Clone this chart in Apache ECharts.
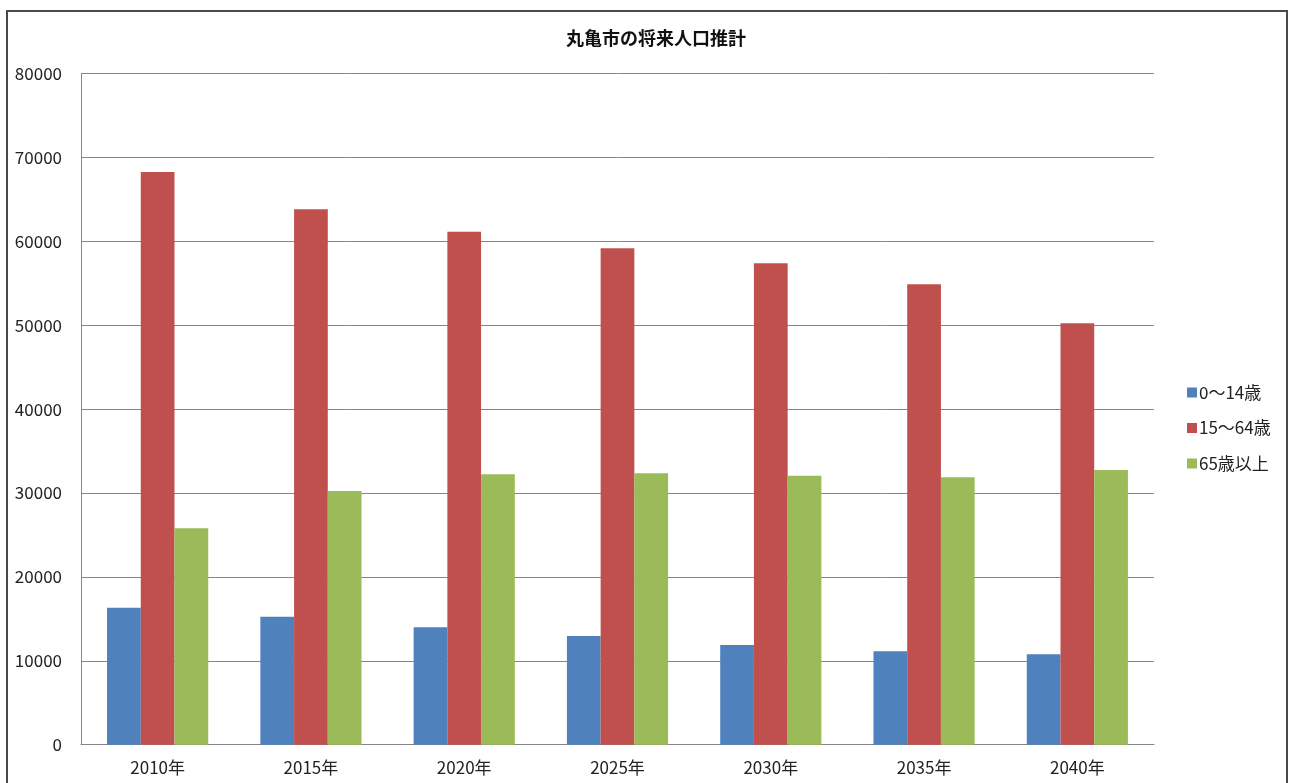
<!DOCTYPE html>
<html><head><meta charset="utf-8">
<script src="https://cdn.jsdelivr.net/npm/echarts@6/dist/echarts.min.js"></script>
<style>html,body{margin:0;padding:0;background:#fff}#c{width:1290px;height:783px}</style>
</head><body><div id="c"></div>
<script>
var categories = ['2010年','2015年','2020年','2025年','2030年','2035年','2040年'];
var age0to14 = [16330, 15260, 13990, 12960, 11880, 11130, 10770];
var age15to64 = [68260, 63810, 61140, 59170, 57380, 54870, 50230];
var age65plus = [25790, 30240, 32230, 32350, 32060, 31870, 32740];
var seriesNames = ['0～14歳','15～64歳','65歳以上'];
var titleText = '丸亀市の将来人口推計';

var font = '"Noto Sans CJK JP", "Noto Sans", sans-serif';
var chart = echarts.init(document.getElementById('c'), null, {renderer:'canvas'});
function bar(name, data, color){
  return {name:name, type:'bar', data:data, barGap:'0%', barCategoryGap:'34%',
    itemStyle:{color:color}, emphasis:{disabled:true}};
}
chart.setOption({
  animation:false,
  backgroundColor:'#ffffff',
  textStyle:{fontFamily:font},
  title:{text:titleText, left:651, textAlign:'center', top:24,
    textStyle:{fontSize:18, fontWeight:'bold', color:'#111', fontFamily:font}},
  graphic:[{type:'rect', shape:{x:7, y:11, width:1280, height:790},
    style:{fill:'none', stroke:'#4a4a4a', lineWidth:2}, silent:true}],
  legend:{orient:'vertical', left:1182, top:379, itemGap:18.5, itemWidth:10, itemHeight:10,
    icon:'rect', data:seriesNames,
    textStyle:{fontSize:17, color:'#222', fontFamily:font, padding:[0,0,0,-3]}},
  grid:{left:81, right:136, top:73.5, bottom:38.3, containLabel:false},
  xAxis:{type:'category', data:categories,
    axisLine:{show:true, lineStyle:{color:'#868686', width:1}},
    axisTick:{show:false},
    axisLabel:{fontSize:17, color:'#222', margin:14, fontFamily:font}},
  yAxis:{type:'value', min:0, max:80000, interval:10000,
    axisLine:{show:true, lineStyle:{color:'#868686', width:1}},
    axisTick:{show:false},
    splitLine:{lineStyle:{color:'#868686', width:1}},
    axisLabel:{fontSize:17, color:'#222', margin:19, fontFamily:font,
      formatter:function(v){return String(v);}}},
  series:[bar(seriesNames[0], age0to14, '#4F81BD'),
          bar(seriesNames[1], age15to64, '#C0504D'),
          bar(seriesNames[2], age65plus, '#9BBB59')]
});
</script></body></html>
